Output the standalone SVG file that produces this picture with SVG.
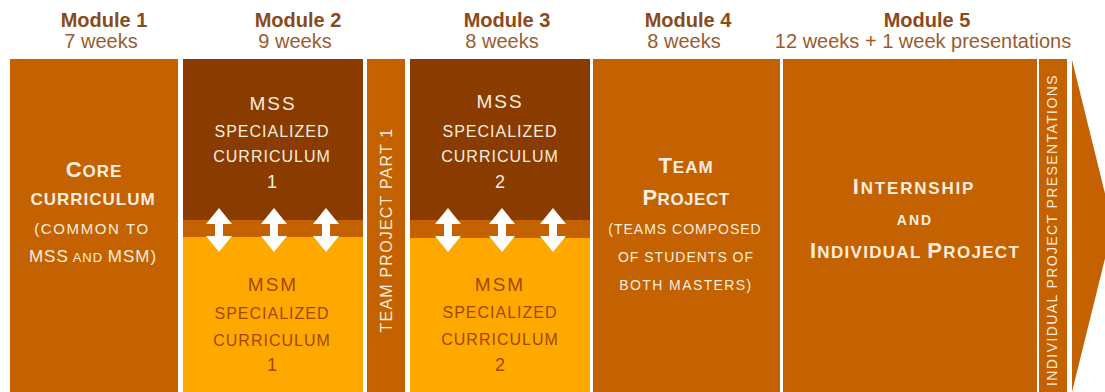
<svg xmlns="http://www.w3.org/2000/svg" width="1105" height="392" viewBox="0 0 1105 392">
<style>
  text { font-family: "Liberation Sans", Arial, sans-serif; }
  .mod { font-size: 20px; font-weight: bold; fill: #8b4a1c; text-anchor: middle; }
  .wk { font-size: 20px; fill: #9a5b30; text-anchor: middle; }
  .orange { fill: #c46100; }
  .dark { fill: #8a3b00; }
  .yellow { fill: #ffa800; }
  .lt { fill: #fbeedf; text-anchor: middle; }
  .br { fill: #a04800; text-anchor: middle; }
  .title { font-weight: bold; font-size: 17px; letter-spacing: 1px; }
  .big { font-size: 22px; }
  .sc { font-size: 14px; letter-spacing: 1.2px; }
  .spec { font-size: 16px; letter-spacing: 1px; }
  .abbr { font-size: 19px; letter-spacing: 2px; }
  .num { font-size: 18px; }
  .vert { font-size: 14px; letter-spacing: 1.4px; fill: #fbeedf; text-anchor: middle; }
  .arrow { fill: #ffffff; }
</style>
<defs>
  <path id="dbl" d="M0,-22 L13,-6 L4,-6 L4,6 L13,6 L0,22 L-13,6 L-4,6 L-4,-6 L-13,-6 Z"/>
</defs>
<rect width="1105" height="392" fill="#ffffff"/>

<g id="headers">
  <text class="mod" x="104" y="27">Module 1</text>
  <text class="wk" x="101" y="48">7 weeks</text>
  <text class="mod" x="298" y="27">Module 2</text>
  <text class="wk" x="295" y="48">9 weeks</text>
  <text class="mod" x="507" y="27">Module 3</text>
  <text class="wk" x="502" y="48">8 weeks</text>
  <text class="mod" x="688" y="27">Module 4</text>
  <text class="wk" x="684" y="48">8 weeks</text>
  <text class="mod" x="927" y="27">Module 5</text>
  <text class="wk" x="923" y="48">12 weeks + 1 week presentations</text>
</g>

<g id="module1">
  <rect class="orange" x="10" y="59" width="168" height="333"/>
  <text class="lt title" x="94" y="177"><tspan class="big">C</tspan>ORE</text>
  <text class="lt title" x="93" y="205">CURRICULUM</text>
  <text class="lt" x="92" y="234" style="font-size:15px;letter-spacing:1.6px">(COMMON TO</text>
  <text class="lt" x="93" y="262" style="letter-spacing:1px"><tspan style="font-size:17px">MSS</tspan><tspan style="font-size:13px"> AND </tspan><tspan style="font-size:17px">MSM)</tspan></text>
</g>

<g id="module2">
  <rect class="dark" x="183" y="59" width="180" height="161"/>
  <rect class="orange" x="183" y="220" width="180" height="17"/>
  <rect class="yellow" x="183" y="237" width="180" height="155"/>
  <text class="lt abbr" x="273" y="110">MSS</text>
  <text class="lt spec" x="272" y="137">SPECIALIZED</text>
  <text class="lt spec" x="272" y="162">CURRICULUM</text>
  <text class="lt num" x="272" y="188">1</text>
  <text class="br abbr" x="273" y="291">MSM</text>
  <text class="br spec" x="272" y="319">SPECIALIZED</text>
  <text class="br spec" x="272" y="346">CURRICULUM</text>
  <text class="br num" x="272" y="371">1</text>
</g>

<g id="team-project-part1">
  <rect class="orange" x="367" y="59" width="38" height="333"/>
  <text class="vert" transform="translate(392,230) rotate(-90)" style="font-size:16px;letter-spacing:1.2px">TEAM PROJECT PART 1</text>
</g>

<g id="module3">
  <rect class="dark" x="410" y="59" width="180" height="161"/>
  <rect class="orange" x="410" y="220" width="180" height="18"/>
  <rect class="yellow" x="410" y="238" width="180" height="154"/>
  <text class="lt abbr" x="500" y="108">MSS</text>
  <text class="lt spec" x="500" y="137">SPECIALIZED</text>
  <text class="lt spec" x="500" y="162">CURRICULUM</text>
  <text class="lt num" x="500" y="188">2</text>
  <text class="br abbr" x="500" y="291">MSM</text>
  <text class="br spec" x="500" y="318">SPECIALIZED</text>
  <text class="br spec" x="500" y="345">CURRICULUM</text>
  <text class="br num" x="500" y="371">2</text>
</g>

<g id="module4">
  <rect class="orange" x="593" y="59" width="187" height="333"/>
  <text class="lt title" x="686" y="173" style="letter-spacing:1px"><tspan class="big">T</tspan>EAM</text>
  <text class="lt title" x="686" y="205" style="letter-spacing:0.5px"><tspan class="big">P</tspan>ROJECT</text>
  <text class="lt sc" x="685" y="234" style="letter-spacing:1px">(TEAMS COMPOSED</text>
  <text class="lt sc" x="686" y="262" style="letter-spacing:1px">OF STUDENTS OF</text>
  <text class="lt sc" x="686" y="290" style="letter-spacing:1.4px">BOTH MASTERS)</text>
</g>

<g id="module5">
  <rect class="orange" x="783" y="59" width="254" height="333"/>
  <text class="lt title" x="914" y="194" style="letter-spacing:1.8px"><tspan class="big">I</tspan>NTERNSHIP</text>
  <text class="lt" x="915" y="225" style="font-size:14px;font-weight:bold;letter-spacing:2px">AND</text>
  <text class="lt title" x="915" y="258" style="letter-spacing:1.3px"><tspan class="big">I</tspan>NDIVIDUAL <tspan class="big">P</tspan>ROJECT</text>
</g>

<g id="presentations">
  <rect class="orange" x="1039" y="59" width="28" height="333"/>
  <text class="vert" transform="translate(1057,230) rotate(-90)">INDIVIDUAL PROJECT PRESENTATIONS</text>
</g>

<g id="timeline-arrow">
  <polygon class="orange" points="1072,60 1113,226 1072,392"/>
</g>

<g id="connectors">
  <use href="#dbl" class="arrow" x="219" y="230"/>
  <use href="#dbl" class="arrow" x="274" y="230"/>
  <use href="#dbl" class="arrow" x="326" y="230"/>
  <use href="#dbl" class="arrow" x="448" y="230"/>
  <use href="#dbl" class="arrow" x="502" y="230"/>
  <use href="#dbl" class="arrow" x="553" y="230"/>
</g>
</svg>
